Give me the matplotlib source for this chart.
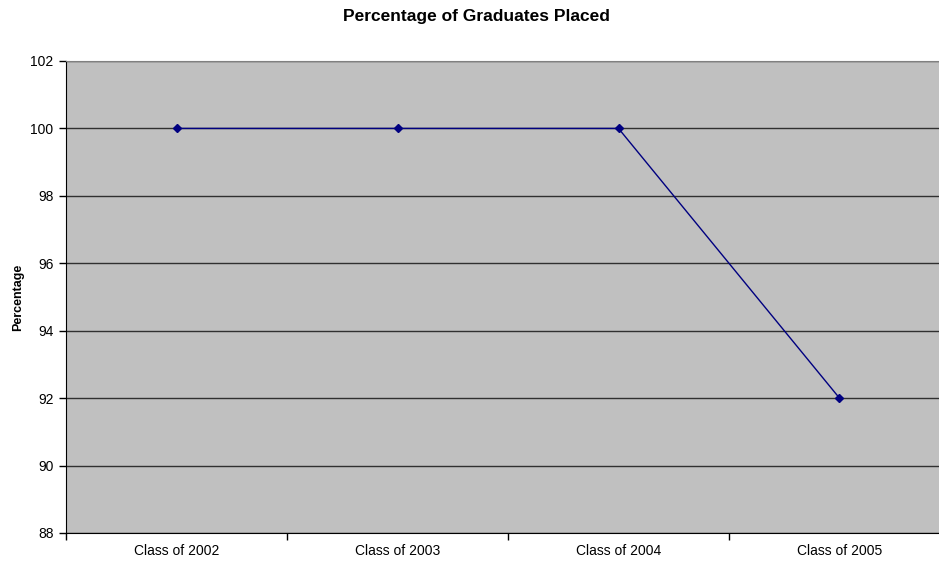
import numpy as np
import matplotlib.pyplot as plt

plt.rcParams['font.family'] = ['Liberation Sans', 'DejaVu Sans']

# Data
classes = ['Class of 2002', 'Class of 2003', 'Class of 2004', 'Class of 2005']
placed_pct = [100, 100, 100, 92]

fig = plt.figure(figsize=(9.39, 5.61), dpi=100)
# plot area runs past the right edge, as in the reference
ax = fig.add_axes([66 / 939, 28 / 561, 884 / 939, 472 / 561])
ax.set_facecolor('#C0C0C0')

x = np.arange(len(classes))
ax.plot(x, placed_pct, color='#000080', linewidth=1.0, marker='D',
        markersize=4, markerfacecolor='#000080', markeredgecolor='#000080', zorder=3)

ax.set_xlim(-0.5, len(classes) - 0.5)
ax.set_ylim(88, 102)
ax.set_yticks(np.arange(88, 103, 2))
ax.yaxis.grid(True, color='#303030', linewidth=1.0)
ax.set_axisbelow(True)

# category labels centred, ticks at category boundaries
ax.set_xticks(np.arange(len(classes) + 1) - 0.5)
ax.set_xticklabels([])
ax.set_xticks(x, minor=True)
ax.set_xticklabels(classes, minor=True, fontsize=10)
ax.tick_params(axis='x', which='minor', length=0, pad=8)
ax.tick_params(axis='x', which='major', length=5, width=1, direction='out')
ax.tick_params(axis='y', length=5, width=1, direction='out', labelsize=10, pad=4)

ax.spines['top'].set_color('#808080')
ax.spines['right'].set_visible(False)
ax.spines['left'].set_color('black')
ax.spines['bottom'].set_color('black')

ax.set_ylabel('Percentage', fontsize=9, fontweight='bold')
ax.yaxis.set_label_coords(-42 / 884, 0.5)
fig.text(476 / 939, 1 - 16 / 561, 'Percentage of Graduates Placed', ha='center', va='center',
         fontsize=12.5, fontweight='bold')

fig.savefig('out.png', dpi=100)
